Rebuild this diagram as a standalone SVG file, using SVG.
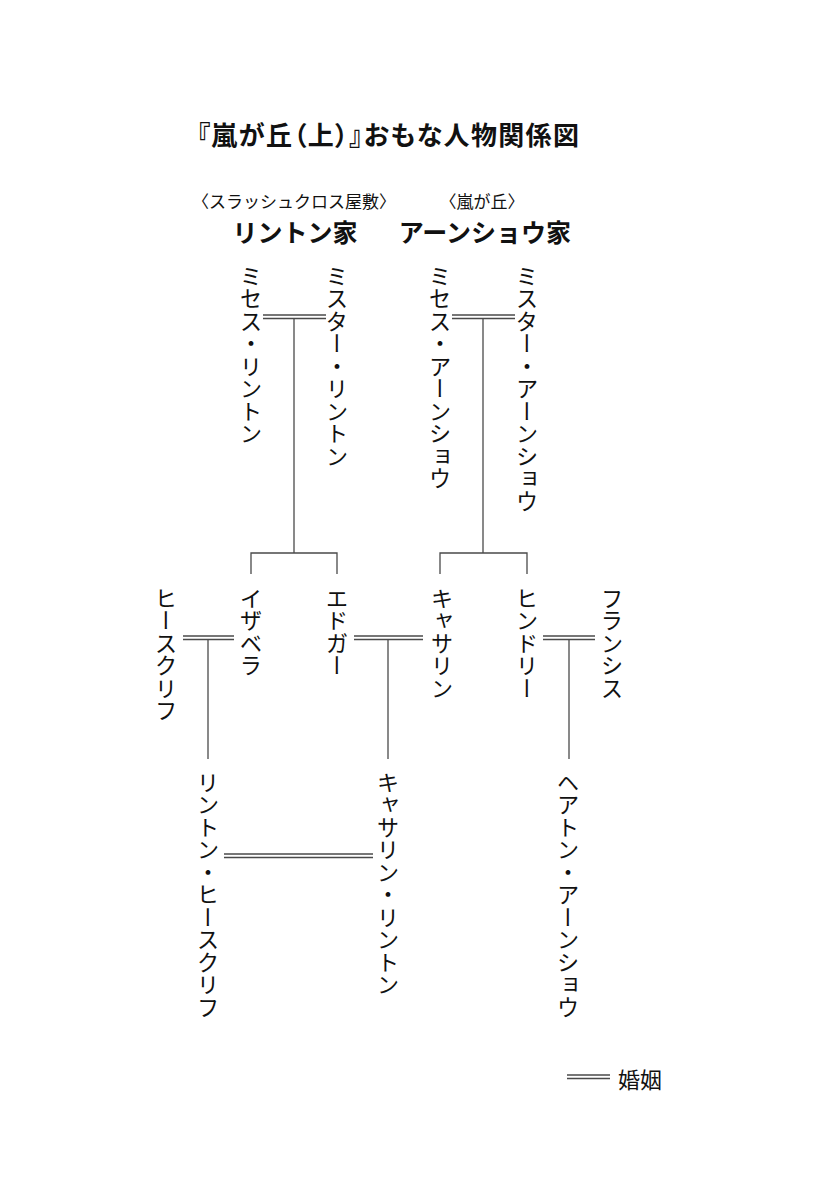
<svg xmlns="http://www.w3.org/2000/svg" width="819" height="1186" viewBox="0 0 819 1186">
<style>
  .t { font-family: "Noto Sans CJK JP", "Noto Sans", sans-serif; fill: #111; }
  .title { font-size: 26px; font-weight: 700; font-feature-settings: "palt"; }
  .sub { font-size: 17px; }
  .fam { font-size: 25px; font-weight: 700; }
  .v { font-size: 22.5px; writing-mode: vertical-rl; }
  .ln { stroke: #4a4a4a; stroke-width: 1.3; fill: none; }
</style>
<rect width="819" height="1186" fill="#fff"/>

<g id="title">
  <text class="t title" x="388" y="133" text-anchor="middle" dominant-baseline="central" textLength="382" lengthAdjust="spacing">『嵐が丘（上）』おもな人物関係図</text>
</g>

<g id="house-linton">
  <text class="t sub" x="294" y="200" text-anchor="middle" dominant-baseline="central">〈スラッシュクロス屋敷〉</text>
  <text class="t fam" x="295" y="231" text-anchor="middle" dominant-baseline="central">リントン家</text>
</g>
<g id="house-earnshaw">
  <text class="t sub" x="482" y="200" text-anchor="middle" dominant-baseline="central">〈嵐が丘〉</text>
  <text class="t fam" x="485" y="231" text-anchor="middle" dominant-baseline="central">アーンショウ家</text>
</g>

<g id="mrs-linton"><text class="t v" x="251" y="265">ミセス・リントン</text></g>
<g id="mr-linton"><text class="t v" x="337" y="265">ミスター・リントン</text></g>
<g id="mrs-earnshaw"><text class="t v" x="440" y="265">ミセス・アーンショウ</text></g>
<g id="mr-earnshaw"><text class="t v" x="527" y="265">ミスター・アーンショウ</text></g>

<g id="heathcliff"><text class="t v" x="166" y="587">ヒースクリフ</text></g>
<g id="isabella"><text class="t v" x="251" y="587">イザベラ</text></g>
<g id="edgar"><text class="t v" x="337" y="587">エドガー</text></g>
<g id="catherine"><text class="t v" x="442" y="587">キャサリン</text></g>
<g id="hindley"><text class="t v" x="527" y="587">ヒンドリー</text></g>
<g id="frances"><text class="t v" x="612" y="587">フランシス</text></g>

<g id="linton-heathcliff"><text class="t v" x="208" y="771">リントン・ヒースクリフ</text></g>
<g id="catherine-linton"><text class="t v" x="388" y="771">キャサリン・リントン</text></g>
<g id="hareton-earnshaw"><text class="t v" x="568" y="771">ヘアトン・アーンショウ</text></g>

<g id="connectors" class="ln">
  <line x1="263" y1="315" x2="326" y2="315"/>
  <line x1="263" y1="318.5" x2="326" y2="318.5"/>
  <line x1="294" y1="318.5" x2="294" y2="553"/>
  <polyline points="251,574 251,553 337,553 337,574"/>
  <line x1="452" y1="315" x2="515" y2="315"/>
  <line x1="452" y1="318.5" x2="515" y2="318.5"/>
  <line x1="483" y1="318.5" x2="483" y2="553"/>
  <polyline points="440,574 440,553 527,553 527,574"/>
  <line x1="183" y1="636" x2="234" y2="636"/>
  <line x1="183" y1="639.5" x2="234" y2="639.5"/>
  <line x1="208" y1="639.5" x2="208" y2="759"/>
  <line x1="354" y1="636" x2="423" y2="636"/>
  <line x1="354" y1="639.5" x2="423" y2="639.5"/>
  <line x1="388" y1="639.5" x2="388" y2="759"/>
  <line x1="543" y1="636" x2="595" y2="636"/>
  <line x1="543" y1="639.5" x2="595" y2="639.5"/>
  <line x1="569" y1="639.5" x2="569" y2="759"/>
  <line x1="224" y1="854" x2="373" y2="854"/>
  <line x1="224" y1="857.5" x2="373" y2="857.5"/>
</g>

<g id="legend">
  <g class="ln">
    <line x1="567" y1="1075" x2="610" y2="1075"/>
    <line x1="567" y1="1078.5" x2="610" y2="1078.5"/>
  </g>
  <text class="t" x="618" y="1078" font-size="22" dominant-baseline="central">婚姻</text>
</g>
</svg>
